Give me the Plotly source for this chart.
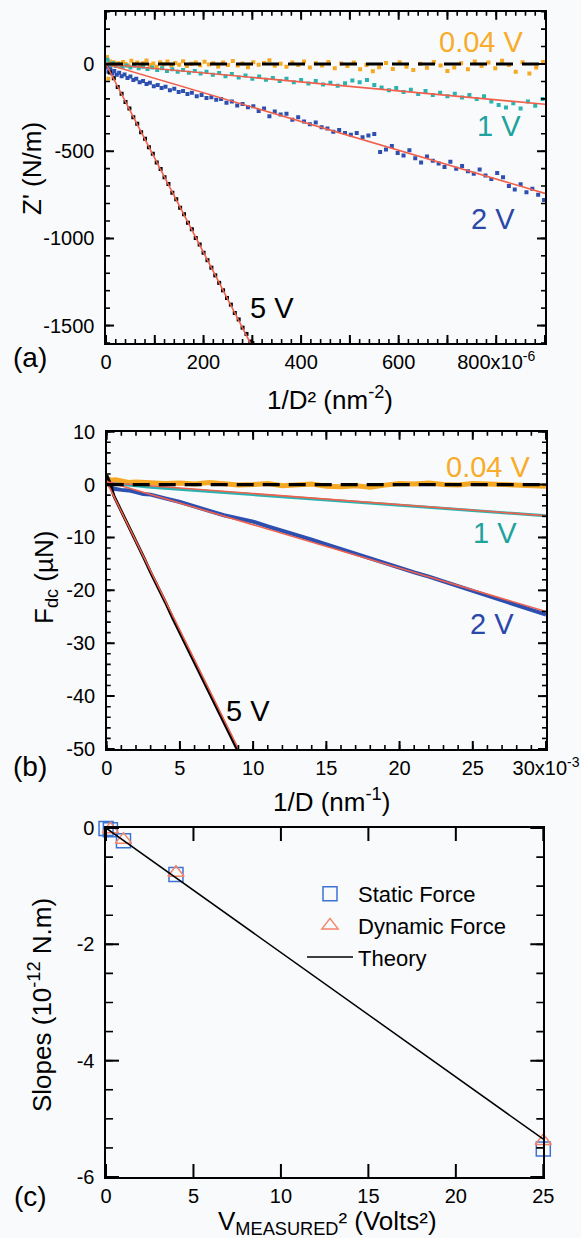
import plotly.graph_objects as go

FONT = "Liberation Sans, Arial, sans-serif"
BG = "#f9fafc"
ORANGE = "#f6a822"
TEAL = "#2ab3b0"
BLUE = "#2c4fb0"
RED = "#f0604c"
SQ_BLUE = "#3b73d6"
TRI_RED = "#f4846a"

# ---------------- Panel (a): Z' vs 1/D^2 (x in 1e-6 nm^-2) ----------------
a_x_004 = [2, 5, 8, 12, 16, 20, 25, 30, 35, 40, 46, 52, 58, 64, 70, 76, 83, 90, 97, 104,
           111, 118, 126, 134, 142, 150, 158, 166, 175, 184, 193, 202, 211, 220, 230, 240,
           250, 260, 270, 280, 291, 302, 313, 324, 335, 346, 358, 370, 382, 394, 406, 418,
           430, 443, 456, 469, 482, 495, 508, 521, 534, 547, 560, 574, 588, 602, 616, 630,
           644, 658, 672, 686, 700, 714, 728, 742, 756, 770, 784, 798, 812, 826, 840, 854,
           868, 882, 896]
a_y_004 = [40, -85, 15, -5, 10, -10, 5, -15, 12, 0, -8, 18, -3, 8, -12, 5, 20, -6, 3, -15,
           10, -2, 14, -9, 6, -4, 16, -12, 2, 9, -7, 13, -3, 5, -14, 8,
           -5, 17, -9, 3, -18, 10, -4, 6, 22, -10, 2, -15, 9, -6, 14, -20,
           4, -8, 12, -25, 3, -12, 8, -30, -5, -42, -18, 6, -28, 10, -15, -35,
           2, -22, 12, -8, -40, -20, 5, -30, 15, -12, 8, -25, 18, -5, -45, 10,
           -55, -20, 12]

a_x_1v = [3, 8, 14, 20, 27, 34, 42, 50, 58, 67, 76, 85, 95, 105, 115, 125, 136, 147, 158,
          170, 182, 194, 206, 219, 232, 245, 258, 272, 286, 300, 314, 328, 342, 356, 370,
          385, 400, 415, 430, 445, 460, 475, 490, 505, 520, 535, 550, 565, 580, 595, 610,
          625, 640, 655, 670, 685, 700, 715, 730, 745, 760, 775, 790, 805, 820, 835, 850,
          865, 880, 895]
a_y_1v = [25, -10, 5, -12, -3, -15, -8, -20, -10, -24, -15, -28, -20, -35, -25, -40, -30,
          -45, -35, -50, -40, -55, -45, -62, -52, -70, -58, -78, -66, -85, -72, -90, -80,
          -98, -85, -105, -92, -112, -98, -118, -108, -125, -110, -95, -105, -92, -120,
          -135, -150, -138, -160, -148, -172, -155, -178, -165, -185, -170, -192, -178,
          -200, -185, -215, -235, -250, -225, -255, -215, -240, -200]

a_x_2v = [2, 5, 9, 13, 17, 22, 27, 32, 38, 44, 50, 56, 62, 69, 76, 83, 90, 98, 106, 114,
          122, 131, 140, 149, 158, 167, 176, 186, 196, 206, 216, 226, 236, 247, 258, 269,
          280, 291, 302, 313, 324, 335, 346, 358, 370, 382, 394, 406, 418, 430, 442, 454,
          466, 478, 490, 502, 514, 526, 538, 550, 562, 574, 586, 598, 610, 622, 634, 646,
          658, 670, 682, 694, 706, 718, 730, 742, 754, 766, 778, 790, 802, 814, 826, 838,
          850, 862, 874, 886, 898]
a_y_2v = [-20, -45, -30, -55, -40, -62, -50, -70, -60, -80, -72, -92, -85, -105, -98, -115,
          -108, -128, -120, -138, -130, -150, -142, -160, -155, -172, -165, -185, -178,
          -195, -190, -205, -200, -222, -215, -238, -230, -248, -242, -270, -255, -300,
          -272, -290, -285, -320, -305, -330, -345, -335, -362, -370, -388, -378, -395,
          -405, -395, -420, -410, -402, -505, -490, -470, -510, -525, -495, -540, -565,
          -530, -555, -570, -590, -560, -600, -585, -615, -630, -605, -640, -660, -625,
          -650, -700, -720, -690, -735, -715, -750, -780]

a_x_5v = [0, 8, 16, 24, 32, 40, 48, 56, 64, 72, 80, 88, 96, 104, 112, 120, 128, 136, 144,
          152, 160, 168, 176, 184, 192, 200, 208, 216, 224, 232, 240, 248, 256, 264, 272,
          280, 288, 296, 300]
a_y_5v = [-5, -48, -82, -132, -170, -218, -255, -305, -342, -392, -428, -478, -515, -565,
          -602, -650, -688, -738, -775, -825, -862, -910, -948, -998, -1035, -1082, -1125,
          -1168, -1212, -1255, -1298, -1342, -1380, -1428, -1465, -1512, -1548, -1592, -1600]

a_fit_x = {"1 V": [0, 900], "2 V": [0, 900], "5 V": [0, 296]}
a_fit_y = {"1 V": [0, -231], "2 V": [0, -742], "5 V": [0, -1600]}

# ---------------- Panel (b): F_dc vs 1/D (x in 1e-3 nm^-1) ----------------
b_x_004 = [0, 0.3, 0.6, 1, 1.5, 2, 3, 4, 5, 6, 7, 8, 9, 10, 11, 12, 13, 14, 15, 16, 17, 18,
           19, 20, 21, 22, 23, 24, 25, 26, 27, 28, 29, 30]
b_y_004 = [1.2, 0.8, 0.9, 0.6, 0.4, 0.5, 0.3, 0.2, 0.3, 0.1, 0.4, 0.2, -0.1, 0.0, 0.2, -0.2,
           -0.1, 0.1, -0.3, -0.4, -0.2, -0.5, -0.1, 0.2, 0.1, 0.3, 0.0, -0.1, 0.2, 0.1, -0.1,
           0.0, -0.2, -0.3]
b_x_1v = [0, 1, 2, 3, 4, 5, 6, 7, 8, 9, 10, 12, 14, 16, 18, 20, 22, 24, 26, 28, 30]
b_y_1v = [0.3, 0.1, -0.2, -0.5, -0.7, -0.9, -1.1, -1.3, -1.5, -1.7, -1.9, -2.3, -2.7, -3.0,
          -3.4, -3.8, -4.2, -4.6, -5.0, -5.4, -5.9]
b_x_2v = [0, 0.5, 1, 1.5, 2, 2.5, 3, 3.5, 4, 5, 6, 7, 8, 9, 10, 11, 12, 13, 14, 15, 16, 17,
          18, 19, 20, 21, 22, 23, 24, 25, 26, 27, 28, 29, 30]
b_y_2v = [0.3, -0.8, -1.0, -1.1, -1.4, -1.8, -1.9, -2.2, -2.6, -3.3, -4.1, -5.0, -5.8, -6.4,
          -7.0, -7.9, -8.7, -9.6, -10.4, -11.3, -12.2, -13.1, -13.9, -14.8, -15.7, -16.6,
          -17.4, -18.3, -19.2, -20.1, -21.0, -21.9, -22.9, -23.8, -24.6]
b_x_5v = [0, 0.2, 0.5, 1, 1.5, 2, 2.5, 3, 3.5, 4, 4.5, 5, 5.5, 6, 6.5, 7, 7.5, 8, 8.5, 8.9]
b_y_5v = [1.8, 0.5, -2.2, -5.0, -8.0, -10.6, -13.6, -16.6, -19.3, -22.2, -25.2, -28.0, -30.8,
          -33.6, -36.5, -39.4, -42.2, -45.0, -47.8, -50.0]
b_fit_x = {"1 V": [0, 30], "2 V": [0, 30], "5 V": [0, 9.0]}
b_fit_y = {"1 V": [0.4, -5.9], "2 V": [0.6, -24.0], "5 V": [0.5, -50.0]}

# ---------------- Panel (c): slopes vs V^2 ----------------
c_x_static = [0.0016, 0.25, 1, 4, 25]
c_y_static = [-0.01, -0.03, -0.22, -0.80, -5.52]
c_x_dynamic = [0.0016, 0.25, 1, 4, 25]
c_y_dynamic = [0.03, -0.02, -0.20, -0.77, -5.38]
c_x_theory = [0, 25]
c_y_theory = [0, -5.35]

SA = 1e-6
SB = 1e-3

fig = go.Figure()


def pts(x, y, color, scale):
    fig.add_trace(go.Scatter(x=[v * scale for v in x], y=y, mode="markers",
                             marker=dict(symbol="square", size=4, color=color, line=dict(width=0)),
                             xaxis="x", yaxis="y", showlegend=False))


def band(x, y, color, scale, width):
    fig.add_trace(go.Scatter(x=[v * scale for v in x], y=y, mode="lines",
                             line=dict(color=color, width=width),
                             xaxis="x2", yaxis="y2", showlegend=False))


# (a)
pts(a_x_004, a_y_004, ORANGE, SA)
pts(a_x_1v, a_y_1v, TEAL, SA)
pts(a_x_2v, a_y_2v, BLUE, SA)
pts(a_x_5v, a_y_5v, "black", SA)
for k in ["1 V", "2 V", "5 V"]:
    fig.add_trace(go.Scatter(x=[v * SA for v in a_fit_x[k]], y=a_fit_y[k], mode="lines",
                             line=dict(color=RED, width=1.6), xaxis="x", yaxis="y",
                             showlegend=False))
fig.add_trace(go.Scatter(x=[0, 900 * SA], y=[0, 0], mode="lines",
                         line=dict(color="black", width=3.2, dash="17px,9px"),
                         xaxis="x", yaxis="y", showlegend=False))

# (b)
band(b_x_004, b_y_004, ORANGE, SB, 5)
band(b_x_1v, b_y_1v, TEAL, SB, 3)
band(b_x_2v, b_y_2v, BLUE, SB, 4)
band(b_x_5v, b_y_5v, "black", SB, 3)
for k in ["1 V", "2 V", "5 V"]:
    fig.add_trace(go.Scatter(x=[v * SB for v in b_fit_x[k]], y=b_fit_y[k], mode="lines",
                             line=dict(color=RED, width=1.6), xaxis="x2", yaxis="y2",
                             showlegend=False))
fig.add_trace(go.Scatter(x=[0, 30 * SB], y=[0, 0], mode="lines",
                         line=dict(color="black", width=3.2, dash="17px,9px"),
                         xaxis="x2", yaxis="y2", showlegend=False))

# (c)
fig.add_trace(go.Scatter(x=c_x_static, y=c_y_static, mode="markers", name="Static Force",
                         marker=dict(symbol="square-open", size=14, color=SQ_BLUE,
                                     line=dict(width=1.5)),
                         xaxis="x3", yaxis="y3", cliponaxis=False))
fig.add_trace(go.Scatter(x=c_x_dynamic, y=c_y_dynamic, mode="markers", name="Dynamic Force",
                         marker=dict(symbol="triangle-up-open", size=14, color=TRI_RED,
                                     line=dict(width=1.5)),
                         xaxis="x3", yaxis="y3", cliponaxis=False))
fig.add_trace(go.Scatter(x=c_x_theory, y=c_y_theory, mode="lines", name="Theory",
                         line=dict(color="black", width=1.5),
                         xaxis="x3", yaxis="y3"))

tickfont = dict(family=FONT, size=20, color="black")


def axis(domain, rng, tickvals, ticktext, anchor):
    return dict(domain=domain, range=rng, anchor=anchor, showline=True, linecolor="black",
                linewidth=2, mirror=True, ticks="", showgrid=False, zeroline=False,
                tickmode="array", tickvals=tickvals, ticktext=ticktext, tickfont=tickfont)


NBSP = "\u00a0"
xa_vals = [i * 100 * SA for i in range(10)]
xa_text = ["0", "", "200", "", "400", "", "600", "", "800x10<sup>-6</sup>", ""]
ya_vals = [0, -500, -1000, -1500]
ya_text = [t + NBSP for t in ["0", "-500", "-1000", "-1500"]]
xb_vals = [i * 5 * SB for i in range(7)]
xb_text = ["0", "5", "10", "15", "20", "25", "30x10<sup>-3</sup>"]
yb_vals = [10, 0, -10, -20, -30, -40, -50]
yb_text = [t + NBSP for t in ["10", "0", "-10", "-20", "-30", "-40", "-50"]]
xc_vals = [0, 5, 10, 15, 20, 25]
xc_text = ["0", "5", "10", "15", "20", "25"]
yc_vals = [0, -2, -4, -6]
yc_text = [t + NBSP for t in ["0", "-2", "-4", "-6"]]

# minor tick positions
xa_minor = [i * 20 * SA for i in range(46)]
ya_minor = [300 - i * 100 for i in range(20)]
xb_minor = [i * 1 * SB for i in range(31)]
yb_minor = [10 - i * 2 for i in range(31)]
yc_minor = [-i * 0.5 for i in range(13)]

W, H = 581, 1238
XA = [0, 900 * SA]
YA = [-1600, 300]
XB = [0, 30 * SB]
YB = [-50, 10]
XC = [0, 25]
YC = [-6, 0]

# plot-area pixel geometry (left, right, top, bottom)
PA = (106, 545, 11.7, 343)
PB = (106.7, 546, 431.7, 749)
PC = (106, 543.3, 828, 1177)


# inward-pointing tick marks on all four sides, drawn as line traces
def ticks(xa, ya, xr, yr, box, xvals, yvals, length, width):
    dx = (xr[1] - xr[0]) / (box[1] - box[0]) * length
    dy = (yr[1] - yr[0]) / (box[3] - box[2]) * length
    xs, ys = [], []
    for v in xvals:
        xs += [v, v, None, v, v, None]
        ys += [yr[0], yr[0] + dy, None, yr[1], yr[1] - dy, None]
    for v in yvals:
        xs += [xr[0], xr[0] + dx, None, xr[1], xr[1] - dx, None]
        ys += [v, v, None, v, v, None]
    fig.add_trace(go.Scatter(x=xs, y=ys, mode="lines", xaxis=xa, yaxis=ya,
                             line=dict(color="black", width=width), showlegend=False,
                             hoverinfo="skip", cliponaxis=False, connectgaps=False))


ticks("x", "y", XA, YA, PA, xa_minor, ya_minor, 4, 1.6)
ticks("x", "y", XA, YA, PA, xa_vals, ya_vals, 8, 2)
ticks("x2", "y2", XB, YB, PB, xb_minor, yb_minor, 4, 1.6)
ticks("x2", "y2", XB, YB, PB, xb_vals, yb_vals, 8, 2)
ticks("x3", "y3", XC, YC, PC, [], yc_minor, 7, 1.6)
ticks("x3", "y3", XC, YC, PC, xc_vals, yc_vals, 13, 2)

fig.update_layout(
    template="none",
    width=W, height=H, margin=dict(l=0, r=0, t=0, b=0, autoexpand=False),
    paper_bgcolor=BG, plot_bgcolor=BG,
    font=dict(family=FONT, color="black"),
    xaxis=axis([PA[0] / W, PA[1] / W], XA, xa_vals, xa_text, "y"),
    yaxis=axis([1 - PA[3] / H, 1 - PA[2] / H], YA, ya_vals, ya_text, "x"),
    xaxis2=axis([PB[0] / W, PB[1] / W], XB, xb_vals, xb_text, "y2"),
    yaxis2=axis([1 - PB[3] / H, 1 - PB[2] / H], YB, yb_vals, yb_text, "x2"),
    xaxis3=axis([PC[0] / W, PC[1] / W], XC, xc_vals, xc_text, "y3"),
    yaxis3=axis([1 - PC[3] / H, 1 - PC[2] / H], YC, yc_vals, yc_text, "x3"),
    legend=dict(x=302 / W, y=1 - 873 / H, xanchor="left", yanchor="top",
                font=dict(family=FONT, size=22, color="black"), bgcolor="rgba(0,0,0,0)",
                tracegroupgap=0, itemwidth=46),
    showlegend=True,
)


def ann(text, x, y, size, color="black", angle=0, xref="paper", yref="paper"):
    fig.add_annotation(text=text, x=x, y=y, xref=xref, yref=yref, showarrow=False,
                       font=dict(family=FONT, size=size, color=color), textangle=angle,
                       xanchor="center", yanchor="middle")


# panel labels
ann("(a)", 30 / W, 1 - 357 / H, 28)
ann("(b)", 30 / W, 1 - 766 / H, 28)
ann("(c)", 30 / W, 1 - 1196 / H, 28)

# axis titles
ann("1/D² (nm<sup>-2</sup>)", 330 / W, 1 - 398 / H, 26)
ann("1/D (nm<sup>-1</sup>)", 331 / W, 1 - 800 / H, 26)
ann("V<sub>MEASURED</sub>² (Volts²)", 327 / W, 1 - 1222 / H, 26)
ann("Z' (N/m)", 32 / W, 1 - 169 / H, 26, angle=-90)
ann("F<sub>dc</sub> (µN)", 45 / W, 1 - 578 / H, 26, angle=-90)
ann("Slopes (10<sup>-12</sup> N.m)", 40 / W, 1 - 1005 / H, 26, angle=-90)

# series labels (data coordinates)
ann("0.04 V", 769 * SA, 127, 29, "#f7ac2a", xref="x", yref="y")
ann("1 V", 806 * SA, -357, 29, "#1ea29e", xref="x", yref="y")
ann("2 V", 793 * SA, -888, 29, "#2a47aa", xref="x", yref="y")
ann("5 V", 341 * SA, -1401, 29, "black", xref="x", yref="y")
ann("0.04 V", 26.1 * SB, 3.4, 29, "#f7ac2a", xref="x2", yref="y2")
ann("1 V", 26.5 * SB, -9.2, 29, "#1ea29e", xref="x2", yref="y2")
ann("2 V", 26.3 * SB, -26.4, 29, "#2a47aa", xref="x2", yref="y2")
ann("5 V", 9.64 * SB, -42.8, 29, "black", xref="x2", yref="y2")

fig.write_html("out.html")
